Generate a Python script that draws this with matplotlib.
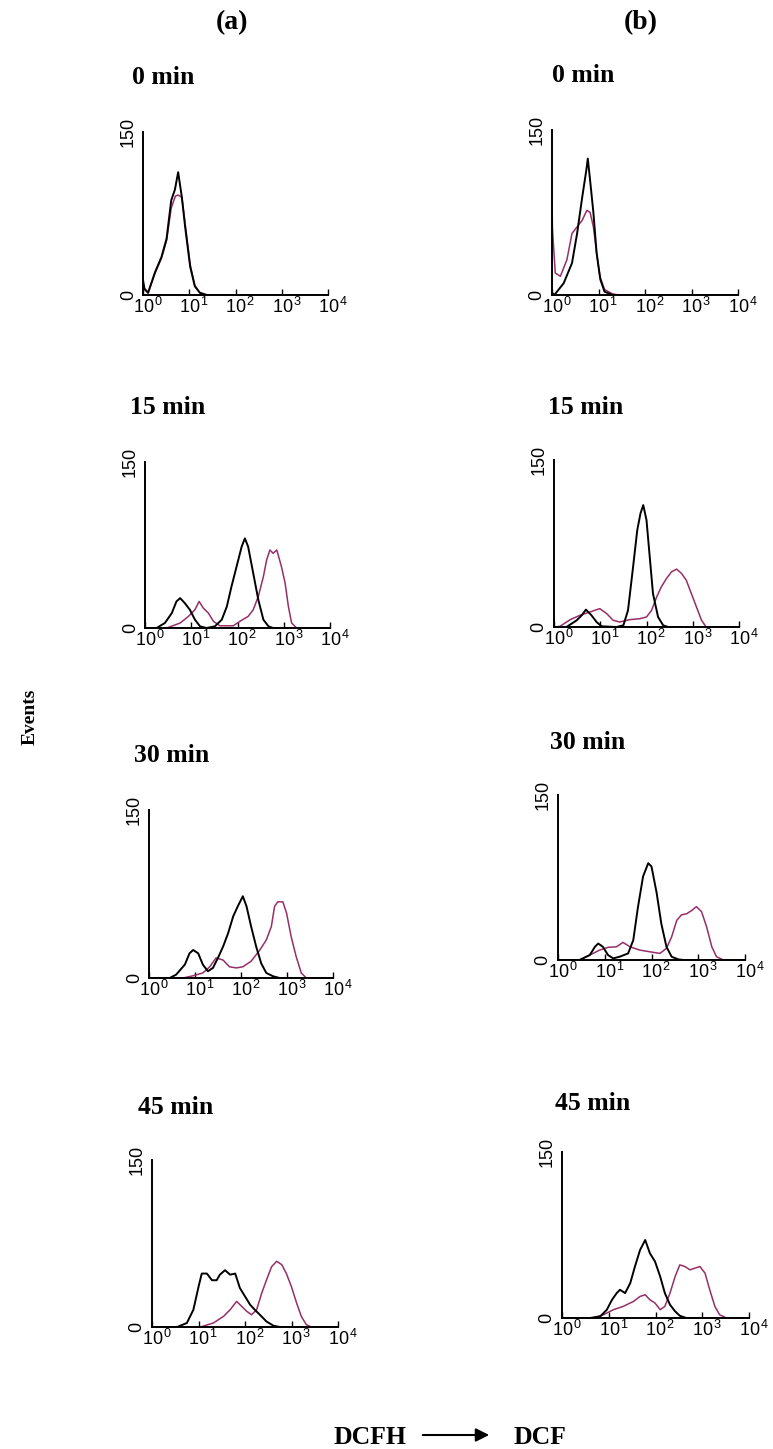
import numpy as np
import matplotlib
matplotlib.use("Agg")
import matplotlib.pyplot as plt
from matplotlib.ticker import FixedLocator, NullFormatter, LogLocator
from matplotlib.transforms import ScaledTranslation

plt.rcParams['font.family'] = ['Liberation Sans', 'DejaVu Sans']
plt.rcParams['mathtext.fontset'] = 'custom'
plt.rcParams['mathtext.rm'] = 'Liberation Sans'
plt.rcParams['mathtext.it'] = 'Liberation Sans'

# data start here
# x positions are log10 of fluorescence (decades), y are events
panel_titles = ['0 min', '15 min', '30 min', '45 min']
column_labels = ['(a)', '(b)']
xtick_values = [1, 10, 100, 1000, 10000]
xtick_labels = [r'$10^{\,0}$', r'$10^{\,1}$', r'$10^{\,2}$', r'$10^{\,3}$', r'$10^{\,4}$']
ytick_values = [0, 150]

# column (a)
a0_black_x = [0.0, 0.03, 0.11, 0.26, 0.40, 0.51, 0.61, 0.69, 0.76, 0.84, 0.91, 1.02, 1.12, 1.23, 1.38, 4.0]
a0_black_y = [14, 6, 2, 21, 35, 52, 87, 97, 113, 90, 63, 26, 8, 2, 0, 0]
a0_mag_x = [0.0, 0.03, 0.11, 0.26, 0.40, 0.51, 0.61, 0.70, 0.76, 0.84, 0.91, 1.02, 1.12, 1.23, 1.38, 4.0]
a0_mag_y = [12, 5, 2, 20, 34, 50, 80, 91, 92, 90, 66, 28, 9, 2, 0, 0]

a15_black_x = [0.0, 0.25, 0.43, 0.58, 0.68, 0.76, 0.86, 0.97, 1.08, 1.19, 1.33, 1.51, 1.66, 1.77, 1.87,
               1.98, 2.09, 2.16, 2.23, 2.34, 2.45, 2.56, 2.67, 2.77, 4.0]
a15_black_y = [0, 0, 4.5, 13.5, 24, 27, 22.5, 16.5, 7.5, 1.5, 0, 1.5, 7.5, 19.5, 37.5,
               55.5, 73.5, 81, 73.5, 49.5, 25.5, 7.5, 1.5, 0, 0]
a15_mag_x = [0.0, 0.47, 0.76, 0.94, 1.08, 1.17, 1.26, 1.37, 1.48, 1.62, 1.91, 2.05, 2.23, 2.34, 2.45,
             2.56, 2.63, 2.70, 2.77, 2.85, 2.95, 3.03, 3.10, 3.17, 3.28, 4.0]
a15_mag_y = [0, 0, 4.5, 10.5, 16.5, 24, 18, 13.5, 6, 2, 2, 6, 10.5, 16.5, 28.5,
             46.5, 61.5, 70.5, 67.5, 70.5, 55.5, 40.5, 19.5, 4.5, 0, 0]

a30_black_x = [0.0, 0.45, 0.59, 0.78, 0.88, 0.96, 1.07, 1.17, 1.28, 1.39, 1.50, 1.61, 1.72, 1.83, 1.93,
               2.04, 2.12, 2.22, 2.33, 2.44, 2.55, 2.70, 2.84, 4.0]
a30_black_y = [0, 0, 3, 12, 22, 25, 22, 12, 6, 9, 18, 28, 40, 55, 64,
               73, 64, 46, 28, 13, 4.5, 1.5, 0, 0]
a30_mag_x = [0.0, 0.74, 0.96, 1.17, 1.32, 1.46, 1.61, 1.75, 1.90, 2.04, 2.22, 2.41, 2.55, 2.66, 2.73,
             2.80, 2.91, 2.99, 3.09, 3.20, 3.31, 3.42, 4.0]
a30_mag_y = [0, 0, 2, 4.5, 10, 18, 16, 10, 9, 10, 15, 25, 34, 46, 64,
             68, 68, 58, 37, 19, 4.5, 0, 0]

a45_black_x = [0.0, 0.54, 0.75, 0.89, 1.00, 1.07, 1.18, 1.29, 1.39, 1.46, 1.57, 1.68, 1.79, 1.89, 2.00,
               2.11, 2.21, 2.32, 2.46, 2.61, 2.75, 4.0]
a45_black_y = [0, 0, 3.6, 15.5, 36, 48, 48, 42, 42, 47, 51, 47, 48, 35, 27.5,
               20, 15.5, 11, 5, 1.2, 0, 0]
a45_mag_x = [0.0, 1.04, 1.32, 1.54, 1.68, 1.82, 1.93, 2.04, 2.14, 2.25, 2.36, 2.46, 2.57, 2.68, 2.79,
             2.89, 3.00, 3.11, 3.21, 3.32, 3.43, 4.0]
a45_mag_y = [0, 0, 3.6, 9.6, 15.5, 23, 18.5, 14, 11, 15.5, 30.5, 42, 54, 59, 56,
             48, 36, 21.5, 9.6, 2, 0, 0]

# column (b)
b0_black_x = [0.0, 0.05, 0.25, 0.43, 0.54, 0.65, 0.74, 0.77, 0.82, 0.89, 0.96, 1.04, 1.13, 1.31, 4.0]
b0_black_y = [2, 0, 10.6, 29, 56, 89, 114, 124, 104, 75, 38, 14, 3, 0, 0]
b0_mag_x = [0.0, 0.01, 0.07, 0.18, 0.32, 0.43, 0.54, 0.65, 0.75, 0.82, 0.89, 0.96, 1.03, 1.13, 1.30, 1.45, 4.0]
b0_mag_y = [86, 60, 20, 17, 32, 56, 62, 68, 77, 75, 62, 38, 17, 5, 1, 0, 0]

b15_black_x = [0.0, 0.27, 0.49, 0.60, 0.69, 0.81, 0.92, 1.03, 1.35, 1.50, 1.60, 1.71, 1.80, 1.87, 1.93,
               2.00, 2.07, 2.14, 2.25, 2.36, 2.47, 4.0]
b15_black_y = [0, 0, 6, 10.5, 15.6, 10.5, 4.5, 0.6, 0, 1.5, 15, 54, 87, 102, 109.5,
               96, 63, 30, 9, 1.5, 0, 0]
b15_mag_x = [0.0, 0.13, 0.35, 0.56, 0.78, 0.99, 1.14, 1.28, 1.42, 1.64, 1.86, 2.00, 2.11, 2.22, 2.32,
             2.43, 2.54, 2.65, 2.76, 2.86, 2.97, 3.08, 3.19, 3.29, 4.0]
b15_mag_y = [0, 0.6, 6.6, 10.5, 13.5, 16.5, 12, 6, 4.5, 6.6, 7.5, 9, 15, 27, 36,
             43.5, 49.5, 52, 48, 42, 30, 18, 6, 0, 0]

b30_black_x = [0.0, 0.46, 0.68, 0.79, 0.86, 0.96, 1.07, 1.18, 1.32, 1.50, 1.61, 1.71, 1.82, 1.93, 2.00,
               2.11, 2.21, 2.32, 2.43, 2.57, 2.68, 4.0]
b30_black_y = [0, 0, 4.5, 12, 15, 12, 4.5, 1.5, 3, 6, 18, 48, 76, 88, 85,
               61, 33, 12, 3, 0.6, 0, 0]
b30_mag_x = [0.0, 0.46, 0.68, 0.89, 1.07, 1.25, 1.39, 1.54, 1.75, 1.96, 2.18, 2.32, 2.43, 2.54, 2.64,
             2.75, 2.86, 2.96, 3.07, 3.18, 3.29, 3.39, 3.54, 4.0]
b30_mag_y = [0, 0, 4.5, 9, 11.5, 12, 16, 12, 9, 7.5, 6, 10.6, 21, 36, 41,
             42, 45, 48.5, 44, 30, 12, 3, 0, 0]

b45_black_x = [0.0, 0.60, 0.82, 0.96, 1.07, 1.17, 1.24, 1.35, 1.46, 1.56, 1.67, 1.78, 1.88, 1.99, 2.10,
               2.20, 2.31, 2.42, 2.52, 2.66, 4.0]
b45_black_y = [0, 0, 1.5, 7.5, 16.5, 22.5, 25.5, 22.5, 31.5, 46.5, 61.5, 70.5, 58.5, 51, 37.5,
               22.5, 12, 6, 2, 0, 0]
b45_mag_x = [0.0, 0.67, 0.89, 1.10, 1.31, 1.53, 1.67, 1.78, 1.88, 1.99, 2.10, 2.20, 2.31, 2.42, 2.52,
             2.63, 2.74, 2.84, 2.95, 3.06, 3.16, 3.27, 3.37, 3.52, 4.0]
b45_mag_y = [0, 0, 3, 7.5, 10.5, 15, 19.5, 21, 16.5, 13.5, 7.5, 10.5, 22.5, 37.5, 48,
             46.5, 43.5, 45, 46.5, 40.5, 25.5, 10.5, 3, 0, 0]
# data end here

col_a = [(a0_black_x, a0_black_y, a0_mag_x, a0_mag_y),
         (a15_black_x, a15_black_y, a15_mag_x, a15_mag_y),
         (a30_black_x, a30_black_y, a30_mag_x, a30_mag_y),
         (a45_black_x, a45_black_y, a45_mag_x, a45_mag_y)]
col_b = [(b0_black_x, b0_black_y, b0_mag_x, b0_mag_y),
         (b15_black_x, b15_black_y, b15_mag_x, b15_mag_y),
         (b30_black_x, b30_black_y, b30_mag_x, b30_mag_y),
         (b45_black_x, b45_black_y, b45_mag_x, b45_mag_y)]

W, H = 773, 1449
fig = plt.figure(figsize=(W / 100, H / 100), dpi=100)

# axes boxes in pixels: left, right, bottom(y=0), top(y=150)
boxes_a = [(143, 328, 295, 132), (145, 330, 628, 462), (149, 333, 978, 810), (152, 338, 1327, 1160)]
boxes_b = [(552, 738, 295, 130), (554, 739, 627, 460), (558, 745, 960, 795), (562, 749, 1318, 1152)]
# title anchors (left x, centre y) in pixels
titles_a = [(132, 78), (130, 408), (134, 755), (138, 1107)]
titles_b = [(552, 76), (548, 407), (550, 742), (555, 1103)]

magenta = '#962f68'
serif_bold = dict(family='Liberation Serif', weight='bold')
label_shift = ScaledTranslation(5 / 100, 0, fig.dpi_scale_trans)


def px_axes(l, r, b, t):
    return fig.add_axes([l / W, 1 - b / H, (r - l) / W, (b - t) / H])


def draw_panel(box, curves, title, tpos):
    ax = px_axes(*box)
    bx, by, mx, my = curves
    ax.plot(10 ** np.array(mx), my, color=magenta, lw=1.1, zorder=2)
    ax.plot(10 ** np.array(bx), by, color='black', lw=1.4, zorder=3)
    ax.set_xscale('log')
    ax.set_xlim(1, 10000)
    ax.set_ylim(0, 150)
    for s in ['top', 'right']:
        ax.spines[s].set_visible(False)
    for s in ['left', 'bottom']:
        ax.spines[s].set_linewidth(1.4)
    ax.xaxis.set_major_locator(FixedLocator(xtick_values))
    ax.set_xticklabels(xtick_labels, fontsize=13)
    ax.xaxis.set_minor_locator(LogLocator(base=10, subs=np.arange(2, 10)))
    ax.xaxis.set_minor_formatter(NullFormatter())
    ax.tick_params(axis='x', which='major', direction='in', length=4, width=1, pad=1.5)
    ax.tick_params(axis='x', which='minor', direction='in', length=2.5, width=0.8)
    ax.set_yticks(ytick_values)
    ax.set_yticklabels([str(v) for v in ytick_values], rotation=90, va='center', fontsize=13)
    ax.tick_params(axis='y', length=0, pad=4.5)
    # base "10" sits on the tick, exponent hangs to the right
    for tk in ax.xaxis.get_major_ticks():
        tk.label1.set_transform(tk.label1.get_transform() + label_shift)
    ax.patch.set_alpha(0)
    fig.text(tpos[0] / W, 1 - tpos[1] / H, title, ha='left', va='center', fontsize=18.5, **serif_bold)
    return ax


for i in range(4):
    draw_panel(boxes_a[i], col_a[i], panel_titles[i], titles_a[i])
    draw_panel(boxes_b[i], col_b[i], panel_titles[i], titles_b[i])

fig.text(232 / W, 1 - 23 / H, column_labels[0], ha='center', va='center', fontsize=20, **serif_bold)
fig.text(641 / W, 1 - 23 / H, column_labels[1], ha='center', va='center', fontsize=20, **serif_bold)

fig.text(30 / W, 1 - 717 / H, 'Events', rotation=90, ha='center', va='center', fontsize=14, **serif_bold)

fig.text(370 / W, 1 - 1437 / H, 'DCFH', ha='center', va='center', fontsize=18.5, **serif_bold)
fig.text(540 / W, 1 - 1437 / H, 'DCF', ha='center', va='center', fontsize=18.5, **serif_bold)
fig.add_artist(matplotlib.patches.FancyArrowPatch((420 / W, 1 - 1435 / H), (492 / W, 1 - 1435 / H),
                                                  transform=fig.transFigure, arrowstyle='-|>',
                                                  mutation_scale=20, lw=1.5, color='black'))

fig.savefig('out.png', dpi=100)
